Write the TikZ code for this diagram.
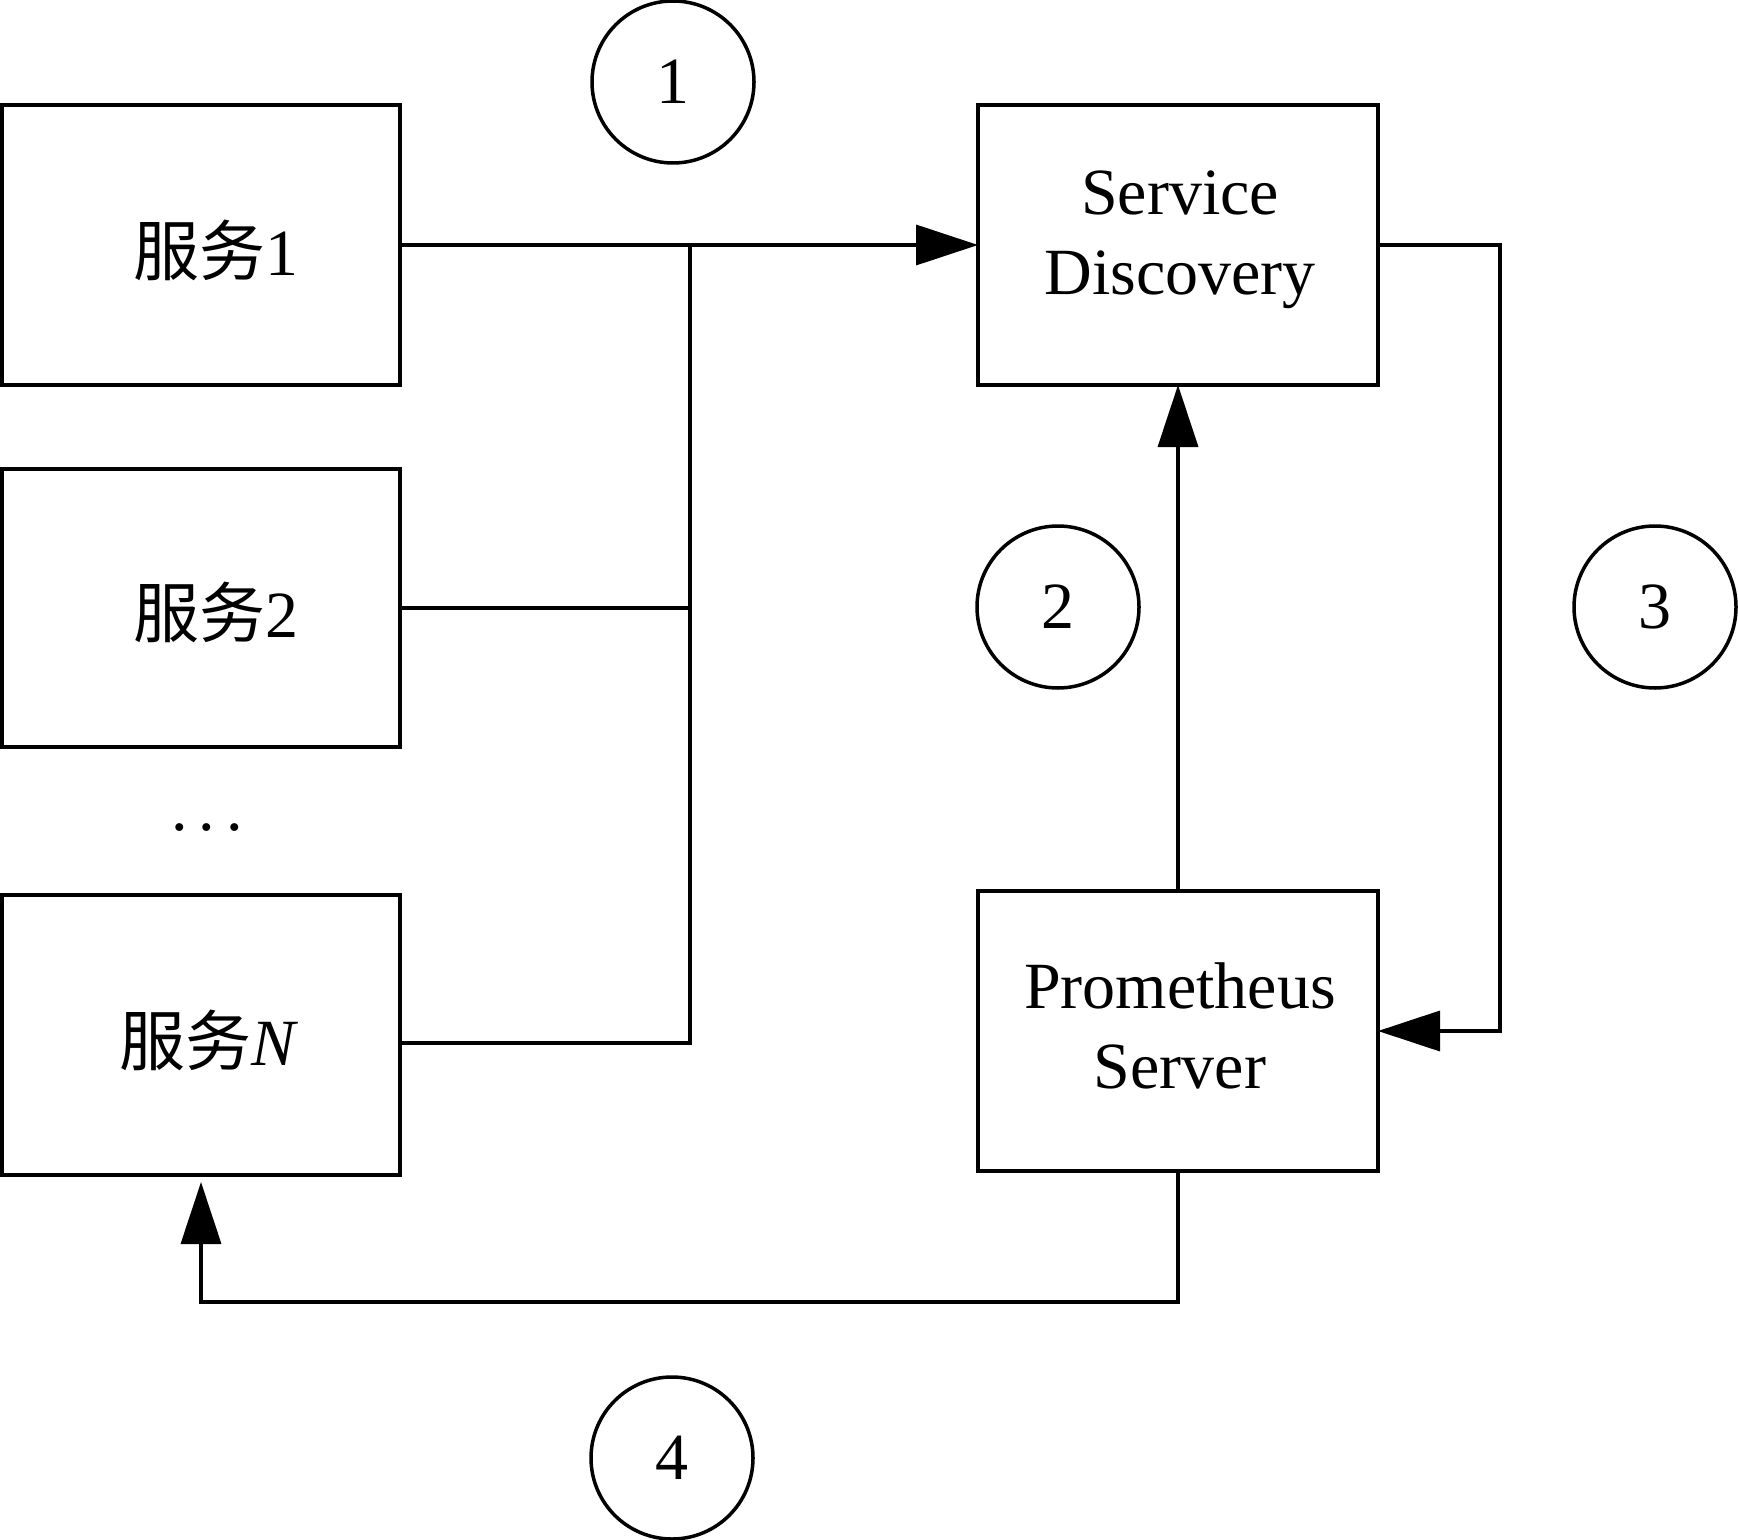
\documentclass[tikz,border=0pt]{standalone}
\usepackage{fontspec}
\setmainfont{Liberation Serif}
\newfontfamily\cjk{Noto Sans CJK SC}
\usetikzlibrary{arrows.meta}
\begin{document}
\begin{tikzpicture}[x=0.5pt,y=-0.5pt,line width=1.75pt,
  every node/.style={font=\fontsize{33pt}{40pt}\selectfont},
  box/.style={draw,rectangle,minimum width=#1,minimum height=140pt,inner sep=0pt,outer sep=0pt},
  box/.default=199pt,
  lbl/.style={inner sep=0pt,anchor=base east},
  txt/.style={inner sep=0pt,align=center},
  num/.style={draw,circle,minimum size=81pt,inner sep=0pt},
  arr/.style={-{Triangle[length=31pt,width=20pt]}}]
\useasboundingbox (0,0) rectangle (1738,1540);
% boxes
\node[box] (s1) at (201,245) {};
\node[box,minimum height=139pt] (s2) at (201,608) {};
\node[box] (sN) at (201,1035) {};
\node[box=200pt] (sd) at (1178,245) {};
\node[box=200pt] (ps) at (1178,1031) {};
% labels
\node[txt] (sdt) at (1180,239.5) {Service\\Discovery};
\node[txt] (pst) at (1180,1025.5) {Prometheus\\Server};
\node[lbl] (t1) at (300,276) {{\cjk 服务}1};
\node[lbl] (t2) at (300,637) {{\cjk 服务}2};
\node[lbl] (tN) at (300,1065) {{\cjk 服务}\textit{N}};
\node[inner sep=0pt,anchor=base] (dots) at (207,830) {.\hspace{5.5pt}.\hspace{5.5pt}.};
% circles
\node[num] (c1) at (673,82) {1};
\node[num] (c2) at (1058,607) {2};
\node[num] (c3) at (1655,607) {3};
\node[num] (c4) at (672,1458) {4};
% junction
\coordinate (jt) at (690,245);
\coordinate (jb) at (690,1043);
\coordinate (r) at (1500,245);
\coordinate (b) at (201,1302);
\draw[arr] (s1.east) -- (sd.west);
\draw (jt) -- (jb) -- (jb -| sN.east);
\draw (s2.east) -- (s2.east -| jt);
\draw[arr] (ps.north) -- (sd.south);
\draw[arr] (sd.east) -- (r) |- (ps.east);
\draw[arr,shorten >=3.5pt] (ps.south) |- (b) -- (sN.south);
\end{tikzpicture}
\end{document}
